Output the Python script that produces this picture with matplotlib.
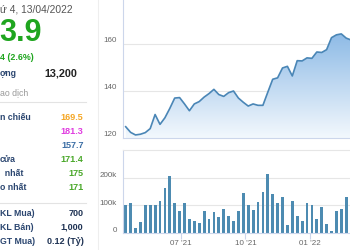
import numpy as np
import pandas as pd
import matplotlib
matplotlib.use('Agg')
import matplotlib.pyplot as plt
import matplotlib.dates as mdates
from matplotlib.colors import LinearSegmentedColormap

plt.rcParams['font.family'] = ['Liberation Sans', 'DejaVu Sans']

# weekly data
dates = pd.date_range('2021-04-13', periods=47, freq='7D')
price = [124.8, 122.4, 121.3, 121.6, 122.3, 124.0, 130.0, 125.8, 128.6, 132.6,
         137.0, 137.2, 134.5, 131.6, 134.5, 135.5, 137.4, 138.9, 140.7, 138.5,
         137.7, 139.3, 140.0, 137.0, 135.2, 133.6, 134.5, 133.9, 133.9, 139.5,
         145.0, 145.6, 149.8, 150.5, 146.4, 152.9, 152.8, 154.1, 153.9, 156.6,
         156.4, 157.6, 162.7, 163.9, 164.3, 162.5, 161.7]
volume = [100, 107, 17, 38, 102, 102, 99, 116, 163, 207,
          108, 78, 106, 51, 43, 35, 80, 51, 75, 56,
          85, 61, 43, 80, 145, 99, 84, 113, 149, 214,
          142, 106, 128, 29, 116, 60, 41, 106, 99, 51,
          94, 31, 7, 77, 87, 131]
volume = np.array(volume) * 1000
price_ticks = [120, 140, 160]
vol_ticks = [0, 100000, 200000]
vol_tick_labels = ['0', '100k', '200k']

# left info panel rows: (label, value, value colour, y px)
info_rows = [
    ('n chiếu', '169.5', '#f5a623', 118),
    ('', '181.3', '#e03ce0', 131.5),
    ('', '157.7', '#3b6ea5', 146),
    ('cửa', '171.4', '#4aa82a', 160),
    ('  nhất', '175', '#4aa82a', 174),
    ('o nhất', '171', '#4aa82a', 188),
    ('KL Mua)', '700', '#1f3354', 213),
    ('KL Bán)', '1,000', '#1f3354', 227),
    ('GT Mua)', '0.12 (Tỷ)', '#1f3354', 241.5),
]

W, H = 350, 250
fig = plt.figure(figsize=(3.5, 2.5), dpi=100)
fig.patch.set_facecolor('white')

def fx(x):
    return x / W

def fy(y):
    return 1 - y / H

navy = '#2b4670'
fig.text(fx(0), fy(10), 'ứ 4, 13/04/2022', fontsize=7.4, color='#555555', va='center', ha='left')
fig.text(fx(-1), fy(33), '3.9', fontsize=22, color='#1fa51f', fontweight='bold', va='center', ha='left')
fig.text(fx(0), fy(57), '4 (2.6%)', fontsize=6.4, color='#1fa51f', fontweight='bold', va='center', ha='left')
fig.text(fx(0), fy(74), 'ợng', fontsize=6.3, color=navy, fontweight='bold', va='center', ha='left')
fig.text(fx(77.5), fy(73.5), '13,200', fontsize=7.8, color='#222222', fontweight='bold', va='center', ha='right')
fig.text(fx(0), fy(93), 'ao dịch', fontsize=6.3, color='#999999', va='center', ha='left')
for lab, val, col, y in info_rows:
    fig.text(fx(0), fy(y), lab, fontsize=6.3, color=navy, fontweight='bold', va='center', ha='left')
    fig.text(fx(83.5), fy(y), val, fontsize=6.5, color=col, fontweight='bold', va='center', ha='right')

fig.add_artist(plt.Line2D([0, fx(86)], [fy(101.5)] * 2, color='#e3e3e3', lw=0.8))
fig.add_artist(plt.Line2D([0, fx(86)], [fy(202.5)] * 2, color='#e3e3e3', lw=0.8))
fig.add_artist(plt.Line2D([fx(97.5)] * 2, [0, 1], color='#eeeeee', lw=0.8))

# chart axes
x0 = 122.7
jul = mdates.date2num(pd.Timestamp('2021-07-01'))
xl = (jul - (181 - x0) / 0.7, jul + (W - 181) / 0.7)

axis_col = '#ccd6eb'
grid_col = '#e6e6e6'
lab_col = '#666666'

ax = fig.add_axes([fx(x0), fy(138), 1 - fx(x0), (138 + 3) / H])
ax.set_xlim(xl)
ax.set_ylim(120, 180)
xd = mdates.date2num(dates)
poly = ax.fill_between(xd, price, 120, color='none', lw=0)
cmap = LinearSegmentedColormap.from_list('g', ['#f3f8fd', '#6aa5de'])
grad = np.linspace(0, 1, 256).reshape(-1, 1)
im = ax.imshow(grad, cmap=cmap, aspect='auto', origin='lower',
               extent=[xl[0], xl[1], 120, 180], zorder=1)
im.set_clip_path(poly.get_paths()[0], transform=ax.transData)
ax.plot(xd, price, color='#4a86b6', lw=1.2, zorder=3, solid_joinstyle='round')
for v in price_ticks[1:]:
    ax.axhline(v, color=grid_col, lw=0.8, zorder=0)
for v in price_ticks:
    ax.annotate(str(v), xy=(0, v), xycoords=('axes fraction', 'data'),
                xytext=(-5.5, 3.5), textcoords='offset pixels',
                ha='right', va='center', fontsize=5.8, color=lab_col)
ax.set_xticks([])
ax.set_yticks([])
for s in ['top', 'right']:
    ax.spines[s].set_visible(False)
ax.spines['left'].set_color(axis_col)
ax.spines['bottom'].set_color(axis_col)
ax.spines['left'].set_linewidth(0.8)
ax.spines['bottom'].set_linewidth(0.8)
ax.patch.set_alpha(0)

ax2 = fig.add_axes([fx(x0), fy(232.7), 1 - fx(x0), (232.7 - 150) / H])
ax2.set_xlim(xl)
ax2.set_ylim(0, 300000)
ax2.bar(xd[:len(volume)], volume, width=4.0, color='#4d8bb1', zorder=2)
for v in vol_ticks[1:]:
    ax2.axhline(v, color=grid_col, lw=0.8, zorder=0)
for v, t in zip(vol_ticks, vol_tick_labels):
    ax2.annotate(t, xy=(0, v), xycoords=('axes fraction', 'data'),
                 xytext=(-6, 2), textcoords='offset pixels',
                 ha='right', va='center', fontsize=5.8, color=lab_col)
ax2.set_yticks([])
ax2.xaxis.set_major_locator(mdates.MonthLocator(bymonth=[1, 4, 7, 10]))
ax2.xaxis.set_major_formatter(mdates.DateFormatter("%m '%y"))
ax2.tick_params(axis='x', length=4, width=0.8, color=axis_col, pad=1.5,
                labelsize=5.8, labelcolor=lab_col)
ax2.spines['right'].set_visible(False)
ax2.spines['top'].set_color(grid_col)
ax2.spines['left'].set_color(axis_col)
ax2.spines['bottom'].set_color(axis_col)
for s in ['top', 'left', 'bottom']:
    ax2.spines[s].set_linewidth(0.8)

fig.savefig('out.png', dpi=100)
